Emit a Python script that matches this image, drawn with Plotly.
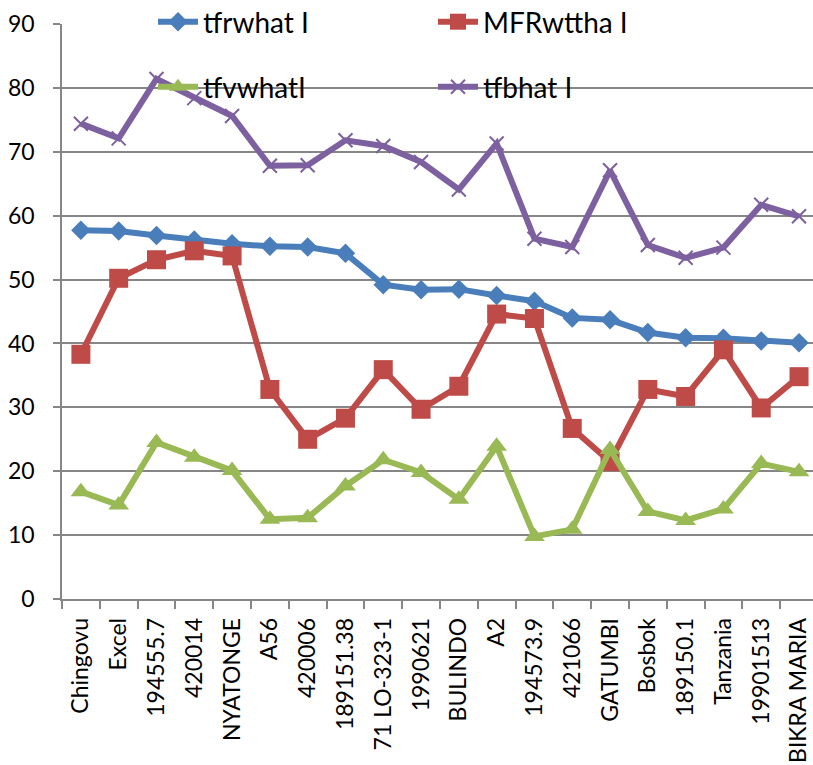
import plotly.graph_objects as go

categories = ["Chingovu", "Excel", "194555.7", "420014", "NYATONGE", "A56", "420006",
              "189151.38", "71 LO-323-1", "1990621", "BULINDO", "A2", "194573.9", "421066",
              "GATUMBI", "Bosbok", "189150.1", "Tanzania", "19901513", "BIKRA MARIA"]

tfrwhat = [57.7, 57.6, 56.9, 56.2, 55.6, 55.2, 55.1, 54.1, 49.2, 48.4,
           48.5, 47.5, 46.6, 44.0, 43.7, 41.7, 40.9, 40.8, 40.4, 40.1]
mfrwttha = [38.3, 50.2, 53.1, 54.5, 53.7, 32.8, 25.0, 28.3, 35.9, 29.7,
            33.3, 44.6, 43.9, 26.7, 21.5, 32.8, 31.7, 39.0, 29.9, 34.8]
tfvwhat = [16.8, 14.7, 24.5, 22.2, 20.1, 12.5, 12.7, 17.7, 21.8, 19.8,
           15.6, 23.9, 9.8, 10.9, 23.4, 13.7, 12.3, 14.1, 21.2, 19.9]
tfbhat = [74.4, 72.1, 81.4, 78.4, 75.6, 67.8, 67.9, 71.8, 70.9, 68.4,
          64.1, 71.3, 56.4, 55.1, 67.1, 55.4, 53.4, 55.0, 61.7, 59.9]

series_names = ["tfrwhat I", "MFRwttha I", "tfvwhatI", "tfbhat I"]

FONT = "Lato"
fig = go.Figure()

fig.add_trace(go.Scatter(x=categories, y=tfrwhat, name=series_names[0], mode="lines+markers",
                         line=dict(color="#4A7EBB", width=6),
                         marker=dict(symbol="diamond", size=15, color="#4A7EBB"),
                         legend="legend"))
fig.add_trace(go.Scatter(x=categories, y=mfrwttha, name=series_names[1], mode="lines+markers",
                         line=dict(color="#BE4B48", width=6),
                         marker=dict(symbol="square", size=19, color="#BE4B48"),
                         legend="legend2"))
fig.add_trace(go.Scatter(x=categories, y=tfvwhat, name=series_names[2], mode="lines+markers",
                         line=dict(color="#98B954", width=6),
                         marker=dict(symbol="triangle-up", size=18, color="#98B954"),
                         legend="legend3"))
fig.add_trace(go.Scatter(x=categories, y=tfbhat, name=series_names[3], mode="lines+markers",
                         line=dict(color="#7D60A0", width=6),
                         marker=dict(symbol="x-thin", size=14, color="#7D60A0",
                                     line=dict(color="#7D60A0", width=2)),
                         legend="legend4"))

plot_left, plot_w = 62, 751
plot_bottom, plot_h = 599, 575

def px_x(p):
    return (p - plot_left) / plot_w

def px_y(p):
    return (plot_bottom - p) / plot_h

legend_common = dict(orientation="v", xanchor="left", yanchor="middle",
                     bgcolor="rgba(0,0,0,0)", borderwidth=0,
                     font=dict(family=FONT, size=28, color="#000000"),
                     itemwidth=40)

fig.update_layout(
    width=813, height=765,
    margin=dict(l=62, r=0, t=24, b=166, pad=0, autoexpand=False),
    paper_bgcolor="white", plot_bgcolor="white",
    font=dict(family=FONT, size=23, color="#000000"),
    showlegend=True,
    legend=dict(x=px_x(153), y=px_y(22), **legend_common),
    legend2=dict(x=px_x(433), y=px_y(22), **legend_common),
    legend3=dict(x=px_x(153), y=px_y(87), **legend_common),
    legend4=dict(x=px_x(433), y=px_y(87), **legend_common),
    xaxis=dict(type="category", range=[-0.5, 19.37], showgrid=False,
               showline=True, linecolor="#868686", linewidth=1.5,
               ticks="outside", tickson="boundaries", ticklen=8, tickcolor="#868686",
               tickwidth=1.5, tickangle=-90, ticklabelstandoff=8,
               tickfont=dict(family=FONT, size=23, color="#000000")),
    yaxis=dict(range=[0, 90], dtick=10, tick0=0, showgrid=True, gridcolor="#868686",
               gridwidth=1.5, showline=True, linecolor="#868686", linewidth=1.5,
               ticks="outside", ticklen=7, tickcolor="#868686", tickwidth=1.5,
               zeroline=False, ticklabelstandoff=14,
               tickfont=dict(family=FONT, size=23, color="#000000")),
)

fig.write_html("out.html")
